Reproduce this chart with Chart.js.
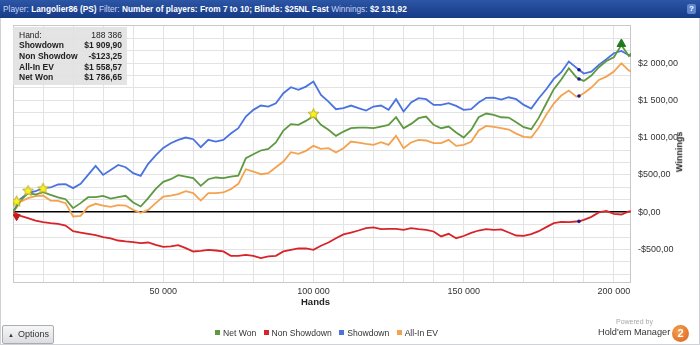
<!DOCTYPE html>
<html>
<head>
<meta charset="utf-8">
<script src="https://cdn.jsdelivr.net/npm/chart.js@4.4.0/dist/chart.umd.min.js"></script>
<style>
  body { margin: 0; width: 700px; height: 345px; overflow: hidden; background: #fff;
         font-family: "Liberation Sans", Arial, sans-serif; position: relative; }
  #graph { position: absolute; left: 0; top: 0; }
  .frame { position: absolute; left: 0; top: 18px; width: 698px; height: 326px;
           border: 1px solid #cfd3d8; border-top: none; }
  .topbar { position: absolute; left: 0; top: 0; width: 700px; height: 18px;
            background: linear-gradient(#2c56a6, #163a86); color: #c9d6f2; font-size: 8.3px;
            line-height: 18px; white-space: nowrap; }
  .topbar span { padding-left: 3px; }
  .topbar b { color: #fff; }
  .help { position: absolute; right: 4px; top: 4px; width: 9px; height: 10px; border-radius: 2px;
          background: #5d86cf; color: #fff; font-size: 8px; line-height: 10px; text-align: center; font-weight: bold; }
  .stats { position: absolute; left: 13px; top: 27px; width: 114px; height: 58px;
           background: rgba(226, 226, 226, 0.92); font-size: 8.5px; color: #222; }
  .stats div { position: relative; height: 10.7px; line-height: 10.7px; font-weight: bold; }
  .stats div.hand { font-weight: normal; margin-top: 2.5px; }
  .stats .lbl { position: absolute; left: 6px; }
  .stats .val { position: absolute; right: 5px; }
  .axis-title { position: absolute; font-size: 9.5px; font-weight: bold; color: #222; }
  .legend { position: absolute; top: 328px; left: 0; width: 648px; text-align: center;
            font-size: 8.6px; color: #333; white-space: nowrap; }
  .legend i { display: inline-block; width: 5px; height: 5px; margin: 0 3px 1px 5px; }
  .options { position: absolute; left: 2px; top: 325px; width: 50px; height: 17px;
             border: 1px solid #a9adb3; border-radius: 2px; background: linear-gradient(#f7f7f7, #dcdde0);
             font-size: 9px; line-height: 17px; color: #333; }
  .options small { font-size: 6px; margin: 0 4px 0 5px; }
  .logo { position: absolute; left: 592px; top: 316px; width: 106px; height: 28px; }
  .logo .pw { position: absolute; left: 24px; top: 2px; font-size: 7px; color: #a8a8a8; }
  .logo .hm { position: absolute; left: 6px; top: 11px; font-size: 9.2px; color: #333; }
  .logo .two { position: absolute; left: 80px; top: 9px; width: 17px; height: 17px; border-radius: 50%;
               background: radial-gradient(circle at 40% 35%, #f6a050, #d9601c); color: #fff;
               font-size: 11px; font-weight: bold; line-height: 17px; text-align: center; }
</style>
</head>
<body>
<canvas id="graph" width="700" height="345"></canvas>
<div class="frame"></div>
<div class="topbar"><span>Player: <b>Langolier86 (PS)</b> Filter: <b>Number of players: From 7 to 10; Blinds: $25NL Fast</b> Winnings: <b id="winTotal"></b></span><div class="help">?</div></div>
<div class="stats" id="stats"></div>
<div class="axis-title" style="left: 301px; top: 296px;">Hands</div>
<div class="axis-title" style="left: 659px; top: 147px; transform: rotate(-90deg); font-size: 9px;">Winnings</div>
<div class="legend" id="legend"></div>
<div class="options"><small>&#9650;</small>Options</div>
<div class="logo"><div class="pw">Powered by</div><div class="hm">Hold'em Manager</div><div class="two">2</div></div>

<script>
// hand counts along the x axis
const hands = [
  0, 2500, 5000, 7500, 10000, 12500, 15000, 17500, 20000, 22500,
  25000, 27500, 30000, 32500, 35000, 37500, 40000, 42500, 45000, 47500,
  50000, 52500, 55000, 57500, 60000, 62500, 65000, 67500, 70000, 72500,
  75000, 77500, 80000, 82500, 85000, 87500, 90000, 92500, 95000, 97500,
  100000, 102500, 105000, 107500, 110000, 112500, 115000, 117500, 120000, 122500,
  125000, 127500, 130000, 132500, 135000, 137500, 140000, 142500, 145000, 147500,
  150000, 152500, 155000, 157500, 160000, 162500, 165000, 167500, 170000, 172500,
  175000, 177500, 180000, 182500, 185000, 187500, 188386, 190000, 192500, 195000,
  197500, 200000, 202500, 205000, 205700
];

const netWon = [
  0, 156, 255, 237, 268, 232, 197, 174, 54, 121,
  201, 201, 219, 183, 201, 219, 130, 76, 188, 313,
  407, 442, 496, 478, 456, 353, 442, 465, 456, 478,
  491, 724, 777, 827, 849, 934, 1095, 1180, 1171, 1224,
  1290, 1171, 1104, 1023, 1081, 1126, 1135, 1135, 1126, 1148,
  1171, 1273, 1126, 1184, 1260, 1282, 1171, 1126, 1148, 1068,
  1000, 1104, 1273, 1323, 1305, 1273, 1269, 1206, 1139, 1113,
  1264, 1457, 1649, 1778, 1930, 1810, 1786.65, 1760, 1832, 1944,
  2028, 2078, 2240, 2095, 2131.92
];

const nonShowdown = [
  0, -49, -80, -112, -134, -147, -156, -179, -255, -273,
  -290, -308, -335, -353, -380, -393, -402, -416, -407, -438,
  -465, -460, -442, -483, -527, -518, -505, -514, -527, -585,
  -585, -572, -585, -617, -594, -585, -527, -505, -487, -487,
  -505, -451, -407, -349, -299, -273, -246, -214, -205, -228,
  -223, -223, -237, -214, -228, -237, -259, -326, -290, -349,
  -320, -277, -246, -228, -237, -232, -273, -313, -317, -295,
  -255, -201, -147, -130, -134, -125, -123.25, -103, -63, -4,
  18, -22, -31, 9, 9
];

const showdown = [
  0, 179, 255, 281, 322, 331, 371, 375, 322, 380,
  500, 621, 500, 567, 634, 603, 523, 487, 648, 760,
  862, 925, 970, 1001, 978, 871, 970, 947, 970, 1054,
  1126, 1282, 1372, 1430, 1416, 1461, 1595, 1676, 1640, 1684,
  1751, 1573, 1483, 1381, 1394, 1430, 1394, 1363, 1416, 1430,
  1372, 1515, 1349, 1470, 1528, 1515, 1439, 1439, 1461, 1425,
  1372, 1381, 1470, 1533, 1537, 1510, 1541, 1515, 1439, 1390,
  1528, 1649, 1787, 1877, 2020, 1939, 1909.90, 1859, 1885, 1975,
  2051, 2131, 2163, 2104, 2095
];

const allInEv = [
  0, 139, 188, 214, 223, 156, 152, 121, -58, -49,
  71, 112, 89, 71, 94, 89, 31, -9, 31, 121,
  210, 223, 241, 281, 255, 156, 255, 255, 264, 308,
  380, 576, 545, 509, 523, 603, 679, 804, 782, 822,
  889, 849, 858, 800, 858, 947, 934, 916, 902, 938,
  902, 1023, 858, 934, 970, 961, 925, 925, 970, 889,
  902, 943, 1095, 1157, 1144, 1126, 1108, 1054, 1010, 1001,
  1135, 1305, 1457, 1564, 1631, 1550, 1558.57, 1595, 1671, 1774,
  1818, 1886, 1997, 1899, 1886
];

// star marks and the peak flag
const starHands = [1200, 5000, 10000, 100000];
const starValues = [150, 290, 320, 1320];
const peakHands = [202500];
const peakValues = [2256];
const dipHands = [1200];
const dipValues = [-60];

// hand shown in the summary box
const cursorHand = 188386;

const xTicks = [0, 10000, 20000, 30000, 40000, 50000, 60000, 70000, 80000, 90000, 100000,
  110000, 120000, 130000, 140000, 150000, 160000, 170000, 180000, 190000, 200000];
const xLabels = [50000, 100000, 150000, 200000];
const yLabels = [-500, 0, 500, 1000, 1500, 2000];
const xMax = 205700;
const yMin = -950, yMax = 2510, yStep = 500 / 3;

const colors = { net: '#5e9942', nsd: '#d82428', sd: '#4a73df', ev: '#f4a24f' };

function groupThousands(n) {
  return String(n).replace(/\B(?=(\d{3})+(?!\d))/g, ' ');
}
function money(v) {
  const abs = Math.abs(v);
  const whole = Math.floor(abs + 1e-9);
  const cents = Math.round((abs - whole) * 100);
  return (v < -1e-9 ? '-' : '') + '$' + groupThousands(whole) + ',' + String(cents).padStart(2, '0');
}
function pts(values) {
  return hands.map((h, i) => ({ x: h, y: values[i] }));
}

// summary box and header total
const ci = hands.indexOf(cursorHand);
const rows = [
  ['Showdown', money(showdown[ci])],
  ['Non Showdow', money(nonShowdown[ci])],
  ['All-In EV', money(allInEv[ci])],
  ['Net Won', money(netWon[ci])]
];
let html = '<div class="hand"><span class="lbl">Hand:</span><span class="val">' + groupThousands(cursorHand) + '</span></div>';
rows.forEach(r => { html += '<div><span class="lbl">' + r[0] + '</span><span class="val">' + r[1] + '</span></div>'; });
document.getElementById('stats').innerHTML = html;
document.getElementById('winTotal').textContent = money(netWon[netWon.length - 1]);

const legendItems = [['Net Won', colors.net], ['Non Showdown', colors.nsd], ['Showdown', colors.sd], ['All-In EV', colors.ev]];
document.getElementById('legend').innerHTML = legendItems
  .map(it => '<i style="background:' + it[1] + '"></i>' + it[0]).join(' ');

function makeStar(size) {
  const c = document.createElement('canvas');
  c.width = size; c.height = size;
  const g = c.getContext('2d');
  const r = size / 2 - 0.8, cx = size / 2, cy = size / 2 + 0.5;
  g.beginPath();
  for (let i = 0; i < 10; i++) {
    const a = -Math.PI / 2 + i * Math.PI / 5;
    const rr = i % 2 ? r * 0.45 : r;
    g.lineTo(cx + rr * Math.cos(a), cy + rr * Math.sin(a));
  }
  g.closePath();
  g.fillStyle = '#f7f224';
  g.fill();
  g.strokeStyle = '#b09c14';
  g.lineWidth = 0.8;
  g.stroke();
  return c;
}

const plotFrame = {
  id: 'plotFrame',
  beforeDatasetsDraw(chart) {
    const { ctx, chartArea: a } = chart;
    ctx.save();
    ctx.strokeStyle = '#c9c9c9';
    ctx.lineWidth = 1;
    ctx.strokeRect(Math.round(a.left) + 0.5, Math.round(a.top) + 0.5, Math.round(a.width) - 1, Math.round(a.height) - 1);
    ctx.restore();
  }
};

const lineSet = (label, values, color) => ({
  label, data: pts(values), borderColor: color, borderWidth: 1.8,
  pointRadius: 0, tension: 0, fill: false
});

const cursorDots = [netWon, nonShowdown, showdown, allInEv].map(s => ({ x: cursorHand, y: s[ci] }));

new Chart(document.getElementById('graph'), {
  type: 'line',
  data: {
    datasets: [
      { label: 'stars', data: starHands.map((h, i) => ({ x: h, y: starValues[i] })), showLine: false,
        pointStyle: makeStar(13), pointRadius: 6 },
      { label: 'peak', data: peakHands.map((h, i) => ({ x: h, y: peakValues[i] })), showLine: false,
        pointStyle: 'triangle', pointRadius: 5, backgroundColor: '#1f7a1f', borderColor: '#1f7a1f', borderWidth: 1 },
      { label: 'dip', data: dipHands.map((h, i) => ({ x: h, y: dipValues[i] })), showLine: false,
        pointStyle: 'triangle', rotation: 180, pointRadius: 4, backgroundColor: '#c81818', borderColor: '#c81818', borderWidth: 1 },
      { label: 'cursor', data: cursorDots, showLine: false, pointStyle: 'circle', pointRadius: 1.8,
        backgroundColor: '#1a1a90', borderColor: '#1a1a90', borderWidth: 0 },
      lineSet('Net Won', netWon, colors.net),
      lineSet('Showdown', showdown, colors.sd),
      lineSet('All-In EV', allInEv, colors.ev),
      lineSet('Non Showdown', nonShowdown, colors.nsd)
    ]
  },
  options: {
    responsive: false,
    animation: false,
    events: [],
    layout: { padding: { left: 13, top: 25, right: 9, bottom: 42 } },
    plugins: { legend: { display: false }, tooltip: { enabled: false } },
    scales: {
      x: {
        type: 'linear', min: 0, max: xMax,
        afterBuildTicks: s => { s.ticks = xTicks.map(v => ({ value: v })); },
        afterFit: s => { s.height = 20; },
        border: { display: false },
        grid: { color: '#e3e3e3', drawTicks: false },
        ticks: {
          autoSkip: false, maxRotation: 0, padding: 3, color: '#333',
          font: { family: '"Liberation Sans", Arial, sans-serif', size: 9 },
          callback: v => xLabels.includes(v) ? groupThousands(v) : ''
        }
      },
      y: {
        type: 'linear', position: 'right', min: yMin, max: yMax,
        afterBuildTicks: s => {
          const t = [];
          for (let k = -5; k <= 15; k++) t.push({ value: k * yStep });
          s.ticks = t;
        },
        afterFit: s => { s.width = 60; },
        border: { display: false },
        grid: {
          drawTicks: false,
          color: c => Math.abs(c.tick.value) < 1e-6 ? '#000' : '#e3e3e3',
          lineWidth: c => Math.abs(c.tick.value) < 1e-6 ? 1.6 : 1
        },
        ticks: {
          autoSkip: false, padding: 7, color: '#333',
          font: { family: '"Liberation Sans", Arial, sans-serif', size: 9 },
          callback: v => {
            const hit = yLabels.find(l => Math.abs(l - v) < 1e-6);
            return hit === undefined ? '' : money(hit);
          }
        }
      }
    }
  },
  plugins: [plotFrame]
});
</script>
</body>
</html>
